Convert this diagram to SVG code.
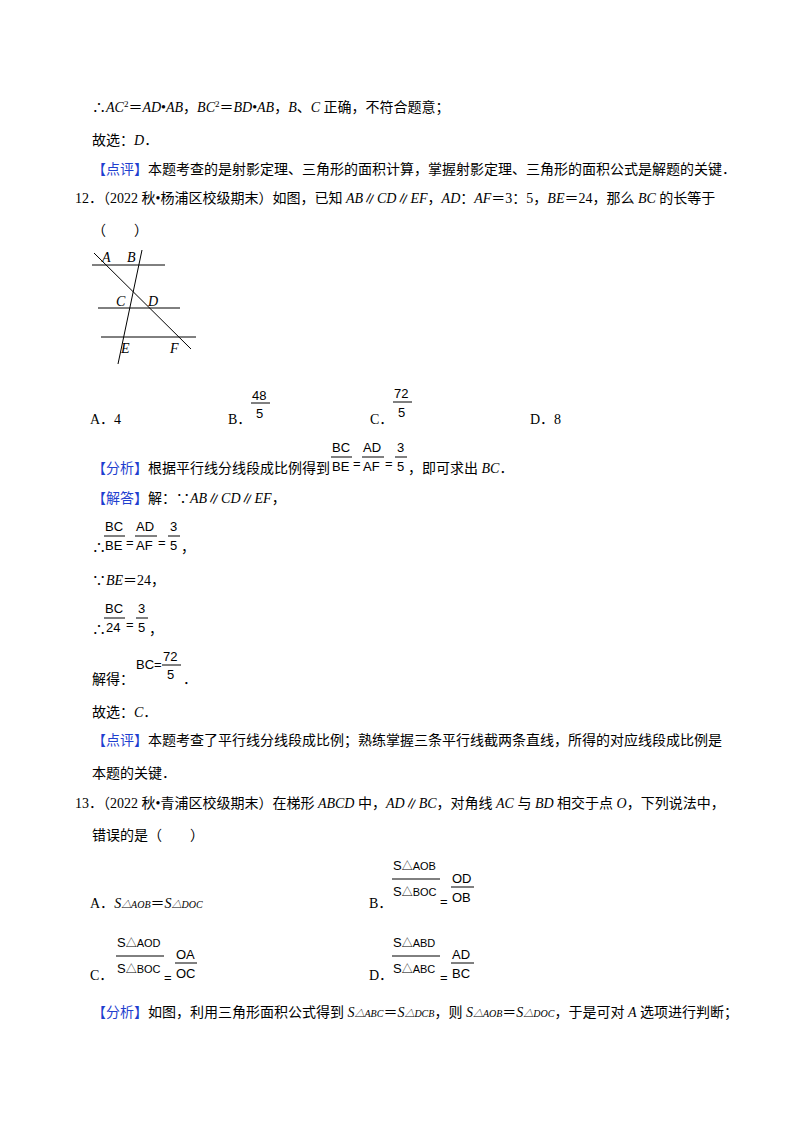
<svg xmlns="http://www.w3.org/2000/svg" width="800" height="1132" viewBox="0 0 800 1132">
<style>
text{font-family:"Liberation Serif","Noto Sans CJK SC",serif;font-size:14px;fill:#000}
.b{fill:#1f3fcf}
.i{font-style:italic}
.f{font-family:"Liberation Sans","Noto Sans CJK SC",sans-serif;font-size:13px}
.s{font-size:10px}
line{stroke:#000;stroke-width:1}
</style>
<rect width="800" height="1132" fill="#fff"/>
<text x="92" y="112">∴<tspan class="i">AC</tspan><tspan dy="-5" font-size="9">2</tspan><tspan dy="5">＝</tspan><tspan class="i">AD</tspan>•<tspan class="i">AB</tspan>，<tspan class="i">BC</tspan><tspan dy="-5" font-size="9">2</tspan><tspan dy="5">＝</tspan><tspan class="i">BD</tspan>•<tspan class="i">AB</tspan>，<tspan class="i">B</tspan>、<tspan class="i">C</tspan> 正确，不符合题意；</text>
<text x="92" y="145">故选：<tspan class="i">D</tspan>．</text>
<text x="92" y="174"><tspan class="b">【点评】</tspan>本题考查的是射影定理、三角形的面积计算，掌握射影定理、三角形的面积公式是解题的关键．</text>
<text x="75" y="203">12．（2022 秋•杨浦区校级期末）如图，已知 <tspan class="i">AB</tspan>∥<tspan class="i">CD</tspan>∥<tspan class="i">EF</tspan>，<tspan class="i">AD</tspan>：<tspan class="i">AF</tspan>＝3：5，<tspan class="i">BE</tspan>＝24，那么 <tspan class="i">BC</tspan> 的长等于</text>
<text x="92" y="235">（　　）</text>
<g id="figure">
<line x1="92" y1="265" x2="165" y2="265"/>
<line x1="98" y1="308" x2="180" y2="308"/>
<line x1="101" y1="337" x2="196" y2="337"/>
<line x1="94" y1="253" x2="191" y2="349"/>
<line x1="118" y1="364" x2="142" y2="250"/>
<text class="i" x="102" y="262" font-size="13">A</text><text class="i" x="127" y="262" font-size="13">B</text>
<text class="i" x="116" y="306">C</text><text class="i" x="148" y="306">D</text>
<text class="i" x="121" y="353">E</text><text class="i" x="170" y="353">F</text>
</g>
<text x="90" y="424">A．4</text>
<text x="228" y="424">B．</text>
<text class="f" x="252" y="400">48</text><line x1="251" y1="403" x2="270" y2="403"/><text class="f" x="256" y="418">5</text>
<text x="370" y="424">C．</text>
<text class="f" x="394" y="398">72</text><line x1="393" y1="402" x2="412" y2="402"/><text class="f" x="398" y="417">5</text>
<text x="530" y="424">D．8</text>
<text x="92" y="473"><tspan class="b">【分析】</tspan>根据平行线分线段成比例得到</text>
<text class="f" x="332" y="452">BC</text><line x1="331" y1="457" x2="352" y2="457"/><text class="f" x="332" y="471">BE</text>
<text class="f" x="353" y="468">=</text>
<text class="f" x="363" y="452">AD</text><line x1="362" y1="457" x2="384" y2="457"/><text class="f" x="363" y="471">AF</text>
<text class="f" x="385" y="468">=</text>
<text class="f" x="397" y="452">3</text><line x1="395" y1="457" x2="407" y2="457"/><text class="f" x="397" y="471">5</text>
<text x="408" y="473">，即可求出 <tspan class="i">BC</tspan>．</text>
<text x="92" y="503"><tspan class="b">【解答】</tspan>解：∵<tspan class="i">AB</tspan>∥<tspan class="i">CD</tspan>∥<tspan class="i">EF</tspan>，</text>
<text x="92" y="552">∴</text>
<text class="f" x="105" y="531">BC</text><line x1="104" y1="536" x2="125" y2="536"/><text class="f" x="105" y="550">BE</text>
<text class="f" x="126" y="547">=</text>
<text class="f" x="136" y="531">AD</text><line x1="135" y1="536" x2="157" y2="536"/><text class="f" x="136" y="550">AF</text>
<text class="f" x="158" y="547">=</text>
<text class="f" x="170" y="531">3</text><line x1="168" y1="536" x2="180" y2="536"/><text class="f" x="170" y="550">5</text>
<text x="181" y="552">，</text>
<text x="92" y="585">∵<tspan class="i">BE</tspan>＝24，</text>
<text x="92" y="634">∴</text>
<text class="f" x="105" y="613">BC</text><line x1="104" y1="618" x2="125" y2="618"/><text class="f" x="106" y="632">24</text>
<text class="f" x="126" y="629">=</text>
<text class="f" x="138" y="613">3</text><line x1="136" y1="618" x2="148" y2="618"/><text class="f" x="138" y="632">5</text>
<text x="149" y="634">，</text>
<text x="92" y="684">解得：</text>
<text class="f" x="136" y="669">BC=</text>
<text class="f" x="163" y="661">72</text><line x1="162" y1="665" x2="181" y2="665"/><text class="f" x="167" y="679">5</text>
<text x="183" y="684">．</text>
<text x="92" y="717">故选：<tspan class="i">C</tspan>．</text>
<text x="92" y="745"><tspan class="b">【点评】</tspan>本题考查了平行线分线段成比例；熟练掌握三条平行线截两条直线，所得的对应线段成比例是</text>
<text x="92" y="778">本题的关键．</text>
<text x="75" y="808">13．（2022 秋•青浦区校级期末）在梯形 <tspan class="i">ABCD</tspan> 中，<tspan class="i">AD</tspan>∥<tspan class="i">BC</tspan>，对角线 <tspan class="i">AC</tspan> 与 <tspan class="i">BD</tspan> 相交于点 <tspan class="i">O</tspan>，下列说法中，</text>
<text x="92" y="840">错误的是（　　）</text>
<text x="90" y="908">A．<tspan class="i">S</tspan><tspan class="i s">△AOB</tspan>＝<tspan class="i">S</tspan><tspan class="i s">△DOC</tspan></text>
<text x="369" y="908">B．</text>
<text class="f" x="393" y="870" font-size="14">S<tspan font-size="11">△AOB</tspan></text><line x1="392" y1="879" x2="440" y2="879"/><text class="f" x="393" y="896" font-size="14">S<tspan font-size="11">△BOC</tspan></text>
<text class="f" x="440" y="906">=</text>
<text class="f" x="452" y="883">OD</text><line x1="451" y1="887" x2="474" y2="887"/><text class="f" x="452" y="902">OB</text>
<text x="90" y="980">C．</text>
<text class="f" x="117" y="947" font-size="14">S<tspan font-size="11">△AOD</tspan></text><line x1="116" y1="956" x2="164" y2="956"/><text class="f" x="117" y="973" font-size="14">S<tspan font-size="11">△BOC</tspan></text>
<text class="f" x="164" y="982">=</text>
<text class="f" x="176" y="959">OA</text><line x1="175" y1="963" x2="197" y2="963"/><text class="f" x="176" y="978">OC</text>
<text x="369" y="980">D．</text>
<text class="f" x="393" y="947" font-size="14">S<tspan font-size="11">△ABD</tspan></text><line x1="392" y1="956" x2="440" y2="956"/><text class="f" x="393" y="973" font-size="14">S<tspan font-size="11">△ABC</tspan></text>
<text class="f" x="440" y="982">=</text>
<text class="f" x="452" y="959">AD</text><line x1="451" y1="963" x2="474" y2="963"/><text class="f" x="452" y="978">BC</text>
<text x="92" y="1017"><tspan class="b">【分析】</tspan>如图，利用三角形面积公式得到 <tspan class="i">S</tspan><tspan class="i s">△ABC</tspan>＝<tspan class="i">S</tspan><tspan class="i s">△DCB</tspan>，则 <tspan class="i">S</tspan><tspan class="i s">△AOB</tspan>＝<tspan class="i">S</tspan><tspan class="i s">△DOC</tspan>，于是可对 <tspan class="i">A</tspan> 选项进行判断；</text>
</svg>
